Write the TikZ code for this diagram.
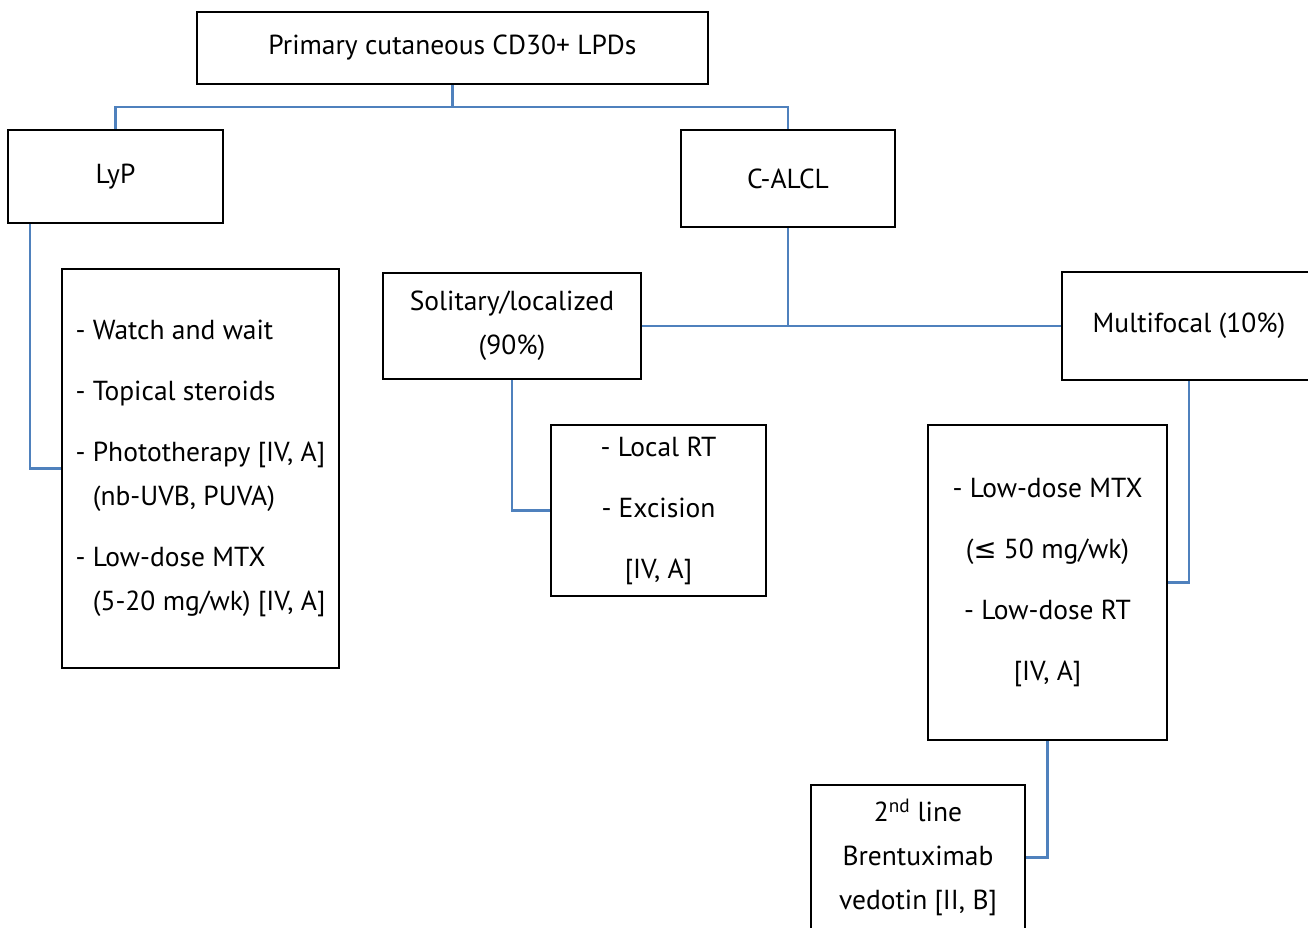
\documentclass[tikz,border=0pt]{standalone}
\usepackage{fontspec}
\setmainfont{PT Sans}
\newfontfamily\symfont{DejaVu Sans}
\definecolor{linkblue}{RGB}{79,129,189}
\begin{document}
\begin{tikzpicture}[x=1pt,y=-1pt,
  box/.style={draw=black,line width=2.5pt,fill=white,rectangle,inner sep=0pt,
    align=center,font=\fontsize{27.5}{44}\selectfont},
  link/.style={draw=linkblue,line width=2.3pt}]
\useasboundingbox (0,0) rectangle (1308,928);

% tree boxes
\node[box,minimum width=511pt,minimum height=72pt] (root) at (452.5,48) {Primary cutaneous CD30+ LPDs};
\node[box,minimum width=215pt,minimum height=93pt] (lyp) at (115.5,176.5) {LyP};
\node[box,minimum width=214pt,minimum height=97pt] (calcl) at (788,178.5) {C-ALCL};
\node[box,minimum width=277pt,minimum height=399pt,align=left] (lyplist) at (200.5,468.5)
  {- Watch and wait\\[17pt]
   - Topical steroids\\[17pt]
   - Phototherapy [IV, A]\\
   \phantom{- }(nb-UVB, PUVA)\\[17pt]
   - Low-dose MTX\\
   \phantom{- }(5-20 mg/wk) [IV, A]};
\node[box,minimum width=258pt,minimum height=106pt] (solitary) at (512,326)
  {Solitary/localized\\(90\%)};
\node[box,minimum width=254pt,minimum height=108pt] (multi) at (1189,326) {Multifocal (10\%)};
\node[box,minimum width=215pt,minimum height=171pt] (localrt) at (658.5,510.5)
  {- Local RT\\[17pt]- Excision\\[17pt][IV, A]};
\node[box,minimum width=239pt,minimum height=315pt] (mlist) at (1047.5,582.5)
  {- Low-dose MTX\\[17pt]({\symfont ≤} 50 mg/wk)\\[17pt]- Low-dose RT\\[17pt][IV, A]};
\node[box,minimum width=214pt,minimum height=145pt] (second) at (918,857.5)
  {2\textsuperscript{nd} line\\Brentuximab\\vedotin [II, B]};

% connectors
\coordinate (bus) at (452.5,107);
\draw[link] (root.south) -- (bus);
\draw[link] (bus) -| (lyp.north);
\draw[link] (bus) -| (calcl.north);
\draw[link] ([xshift=23pt]lyp.south west) |- (lyplist.west);
\draw[link] (solitary.east) -- (multi.west);
\draw[link] (calcl.south) -- (calcl.south |- solitary.east);
\draw[link] (solitary.south) |- (localrt.west);
\draw[link] (multi.south) |- (mlist.east);
\draw[link] (mlist.south) |- (second.east);
\end{tikzpicture}
\end{document}
